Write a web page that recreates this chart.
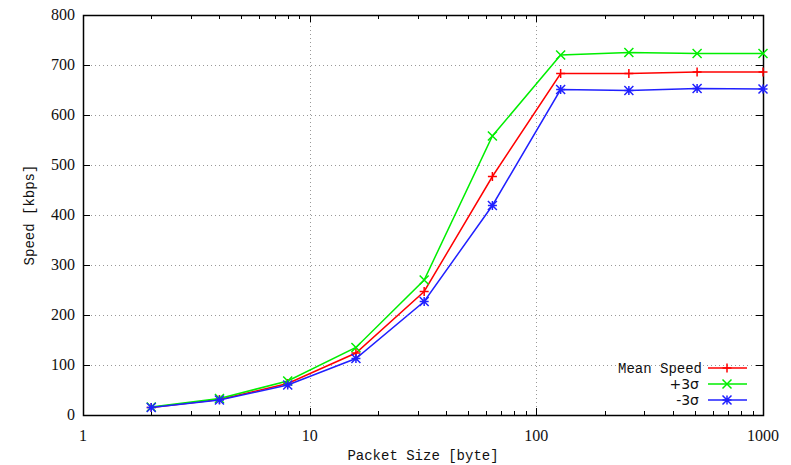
<!DOCTYPE html>
<html>
<head>
<meta charset="utf-8">
<script src="https://cdn.jsdelivr.net/npm/d3@7"></script>
<style>
  body { margin: 0; background: #fff; }
  text { font-family: "Liberation Mono", "DejaVu Sans Mono", monospace; fill: #111; }
  text.num { font-family: "Liberation Serif", "DejaVu Serif", serif; }
  text.sig { font-family: "DejaVu Sans", sans-serif; }
</style>
</head>
<body>
<div id="chart"></div>
<script>
// Data
const packetSizes = [2, 4, 8, 16, 32, 64, 128, 256, 512, 1000];
const meanSpeed = [15, 31, 63, 124, 247, 477, 683, 683, 686, 686];
const plusSigma = [16, 33, 68, 135, 270, 558, 720, 725, 723, 723];
const minusSigma = [15, 30, 60, 113, 227, 419, 651, 649, 653, 652];
const seriesNames = ["Mean Speed", "+3σ", "-3σ"];
const seriesColors = ["#ff0000", "#00ee00", "#2020ff"];
const seriesMarkers = ["plus", "cross", "star"];
const yTicks = [0, 100, 200, 300, 400, 500, 600, 700, 800];
const xTicks = [1, 10, 100, 1000];

var width = 791;
var height = 465;
var margin = { top: 15, right: 28, bottom: 50, left: 83 };

var svg = d3
  .select("#chart")
  .append("svg")
  .attr("width", width)
  .attr("height", height);

var x = d3
  .scaleLog()
  .domain([1, 1000])
  .range([margin.left, width - margin.right]);

var y = d3
  .scaleLinear()
  .domain([0, 800])
  .range([height - margin.bottom, margin.top]);

var x0 = x.range()[0], x1 = x.range()[1];
var y0 = y.range()[0], y1 = y.range()[1];

// Grid (dotted)
var grid = svg.append("g").attr("stroke", "#999").attr("stroke-dasharray", "1,3");
grid
  .selectAll("line.gy")
  .data(yTicks.slice(1, -1))
  .enter()
  .append("line")
  .attr("x1", x0)
  .attr("x2", x1)
  .attr("y1", (d) => y(d) + 0.5)
  .attr("y2", (d) => y(d) + 0.5);
grid
  .selectAll("line.gx")
  .data([10, 100])
  .enter()
  .append("line")
  .attr("x1", (d) => Math.round(x(d)) + 0.5)
  .attr("x2", (d) => Math.round(x(d)) + 0.5)
  .attr("y1", y0)
  .attr("y2", y1);

// Ticks: major and minor on all sides, pointing inward
var minor = [];
for (var dec = 1; dec < 1000; dec *= 10) {
  for (var k = 2; k <= 9; k++) minor.push(dec * k);
}
var ticks = svg.append("g").attr("stroke", "#000").attr("stroke-width", 1);
xTicks.concat(minor).forEach(function (v) {
  var len = xTicks.indexOf(v) >= 0 ? 7 : 4;
  var px = Math.round(x(v)) + 0.5;
  ticks.append("line").attr("x1", px).attr("x2", px).attr("y1", y0).attr("y2", y0 - len);
  ticks.append("line").attr("x1", px).attr("x2", px).attr("y1", y1).attr("y2", y1 + len);
});
yTicks.forEach(function (v) {
  var py = y(v) + 0.5;
  ticks.append("line").attr("x1", x0).attr("x2", x0 + 7).attr("y1", py).attr("y2", py);
  ticks.append("line").attr("x1", x1).attr("x2", x1 - 7).attr("y1", py).attr("y2", py);
});

// Frame
svg
  .append("rect")
  .attr("x", x0 + 0.5)
  .attr("y", y1 + 0.5)
  .attr("width", x1 - x0)
  .attr("height", y0 - y1)
  .attr("fill", "none")
  .attr("stroke", "#000")
  .attr("stroke-width", 1.5);

// Tick labels
svg
  .selectAll("text.ylab")
  .data(yTicks)
  .enter()
  .append("text")
  .attr("class", "num")
  .attr("x", x0 - 8)
  .attr("y", (d) => y(d) + 5)
  .attr("text-anchor", "end")
  .style("font-size", "16px")
  .text((d) => d);
svg
  .selectAll("text.xlab")
  .data(xTicks)
  .enter()
  .append("text")
  .attr("class", "num")
  .attr("x", (d) => x(d))
  .attr("y", y0 + 26)
  .attr("text-anchor", "middle")
  .style("font-size", "16px")
  .text((d) => d);

// Axis titles
svg
  .append("text")
  .attr("x", (x0 + x1) / 2)
  .attr("y", height - 5)
  .attr("text-anchor", "middle")
  .style("font-size", "14px")
  .text("Packet Size [byte]");
svg
  .append("text")
  .attr("transform", "translate(34," + (y0 + y1) / 2 + ") rotate(-90)")
  .attr("text-anchor", "middle")
  .style("font-size", "14px")
  .text("Speed [kbps]");

// Marker path builder
function markerPath(type, cx, cy, r) {
  var p = "";
  if (type === "plus" || type === "star") {
    p += "M" + (cx - r) + "," + cy + "H" + (cx + r) + "M" + cx + "," + (cy - r) + "V" + (cy + r);
  }
  if (type === "cross" || type === "star") {
    p +=
      "M" + (cx - r) + "," + (cy - r) + "L" + (cx + r) + "," + (cy + r) +
      "M" + (cx - r) + "," + (cy + r) + "L" + (cx + r) + "," + (cy - r);
  }
  return p;
}

var series = [meanSpeed, plusSigma, minusSigma];
var line = d3
  .line()
  .x((d, i) => x(packetSizes[i]))
  .y((d) => y(d));

series.forEach(function (vals, s) {
  var g = svg.append("g");
  g.append("path")
    .attr("d", line(vals))
    .attr("fill", "none")
    .attr("stroke", seriesColors[s])
    .attr("stroke-width", 1.5);
  g.selectAll("path.m")
    .data(vals)
    .enter()
    .append("path")
    .attr("d", (d, i) => markerPath(seriesMarkers[s], x(packetSizes[i]), y(d), 4.5))
    .attr("stroke", seriesColors[s])
    .attr("stroke-width", 1.5)
    .attr("fill", "none");
});

// Legend
var legend = svg
  .selectAll("g.legend")
  .data(seriesNames)
  .enter()
  .append("g")
  .attr("transform", (d, i) => "translate(0," + (368 + i * 16) + ")");
legend
  .append("text")
  .attr("class", (d, i) => (i === 0 ? null : "sig"))
  .attr("x", (d, i) => (i === 0 ? 702 : 699))
  .attr("y", 5)
  .attr("text-anchor", "end")
  .style("font-size", (d, i) => (i === 0 ? "14px" : "14px"))
  .text((d) => d);
legend
  .append("line")
  .attr("x1", 708)
  .attr("x2", 747)
  .attr("stroke", (d, i) => seriesColors[i])
  .attr("stroke-width", 1.5);
legend
  .append("path")
  .attr("d", (d, i) => markerPath(seriesMarkers[i], 727, 0, 4.5))
  .attr("stroke", (d, i) => seriesColors[i])
  .attr("stroke-width", 1.5);
</script>
</body>
</html>
